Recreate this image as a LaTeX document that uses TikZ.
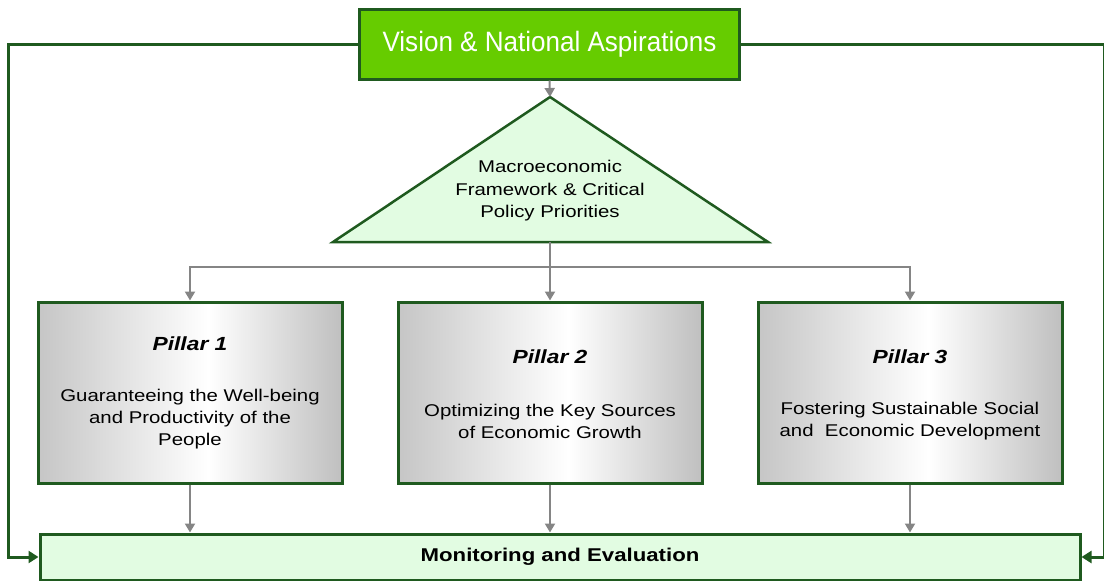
\documentclass[tikz,border=0pt]{standalone}
\usepackage{fontspec}
\setmainfont{Liberation Sans}
\newfontfamily\wideface[FakeStretch=1.2]{Liberation Sans}
\newfontfamily\narrowface[FakeStretch=0.93]{Liberation Sans}
\usetikzlibrary{arrows.meta}

\definecolor{darkgreen}{HTML}{1F5A1F}
\definecolor{visiongreen}{HTML}{66CC00}
\definecolor{palegreen}{HTML}{E2FCE2}
\definecolor{arrowgray}{HTML}{858585}

% silver gradient for the pillar boxes
\pgfdeclarehorizontalshading{pillarshade}{100bp}{%
  color(0bp)=(gray!45); color(25bp)=(gray!45);
  color(53bp)=(white);
  color(75bp)=(gray!50); color(100bp)=(gray!50)}

\tikzset{
  visionbox/.style={draw=darkgreen, line width=3pt, fill=visiongreen,
    minimum width=380pt, minimum height=70pt, inner sep=0pt,
    text=white, font=\narrowface\fontsize{28}{30}\selectfont},
  pillarbox/.style={draw=darkgreen, line width=3pt, shading=pillarshade,
    minimum width=304pt, minimum height=181pt, inner sep=0pt},
  pillartitle/.style={font=\wideface\fontsize{19}{20}\selectfont\bfseries\itshape},
  pillartext/.style={font=\wideface\fontsize{17}{22}\selectfont, align=center},
  monbox/.style={draw=darkgreen, line width=3pt, fill=palegreen,
    minimum width=1040pt, minimum height=46pt, inner sep=0pt,
    font=\wideface\fontsize{18.5}{20}\selectfont\bfseries},
  grayarrow/.style={draw=arrowgray, line width=2pt,
    -{Triangle[width=10pt,length=9pt]}},
  grayline/.style={draw=arrowgray, line width=2pt},
  feedback/.style={draw=darkgreen, line width=3pt,
    -{Triangle[width=12pt,length=10pt]}},
}

\begin{document}
\begin{tikzpicture}[x=1pt, y=-1pt]
\useasboundingbox (0,0) rectangle (1104,581);

% top and bottom boxes with the feedback loops between them
\node[visionbox] (vision) at (549.5,44) {Vision \& National Aspirations};
\node[monbox] (mon) at (560,557) {Monitoring and Evaluation};
\draw[feedback] (vision.west) -| ([xshift=-30pt]mon.west) -- (mon.west);
\draw[feedback] (vision.east) -| ([xshift=23pt]mon.east) -- (mon.east);

% macroeconomic framework triangle
\coordinate (apex) at (550,97);
\coordinate (bl) at (333,242);
\coordinate (br) at (768,242);
\coordinate (base) at (550,242);
\draw[darkgreen, line width=2.5pt, fill=palegreen, line join=miter] (apex) -- (br) -- (bl) -- cycle;
\node[font=\wideface\fontsize{17}{22.5}\selectfont, align=center] (macro) at (550,191)
  {Macroeconomic\\Framework \& Critical\\Policy Priorities};

\draw[grayarrow] (vision.south) -- (apex);

% pillars
\node[pillarbox] (p1) at (190,392.5) {};
\node[pillarbox] (p2) at (550,392.5) {};
\node[pillarbox] (p3) at (910,392.5) {};

\node[pillartitle] (t1) at (190,344) {Pillar 1};
\node[pillartext] (d1) at (190,419) {Guaranteeing the Well-being\\and Productivity of the\\People};
\node[pillartitle] (t2) at (550,357) {Pillar 2};
\node[pillartext] (d2) at (550,421) {Optimizing the Key Sources\\of Economic Growth};
\node[pillartitle] (t3) at (910,357) {Pillar 3};
\node[pillartext] (d3) at (910,421) {Fostering Sustainable Social\\and \ Economic Development};

% branching from the triangle to the pillars
\coordinate (split) at (550,267);
\draw[grayline] (base) -- (split);
\draw[grayarrow] (split) -| (p1.north);
\draw[grayarrow] (split) -- (p2.north);
\draw[grayarrow] (split) -| (p3.north);

% pillars feed monitoring
\draw[grayarrow] (p1.south) -- (p1.south |- mon.north);
\draw[grayarrow] (p2.south) -- (p2.south |- mon.north);
\draw[grayarrow] (p3.south) -- (p3.south |- mon.north);
\end{tikzpicture}
\end{document}
